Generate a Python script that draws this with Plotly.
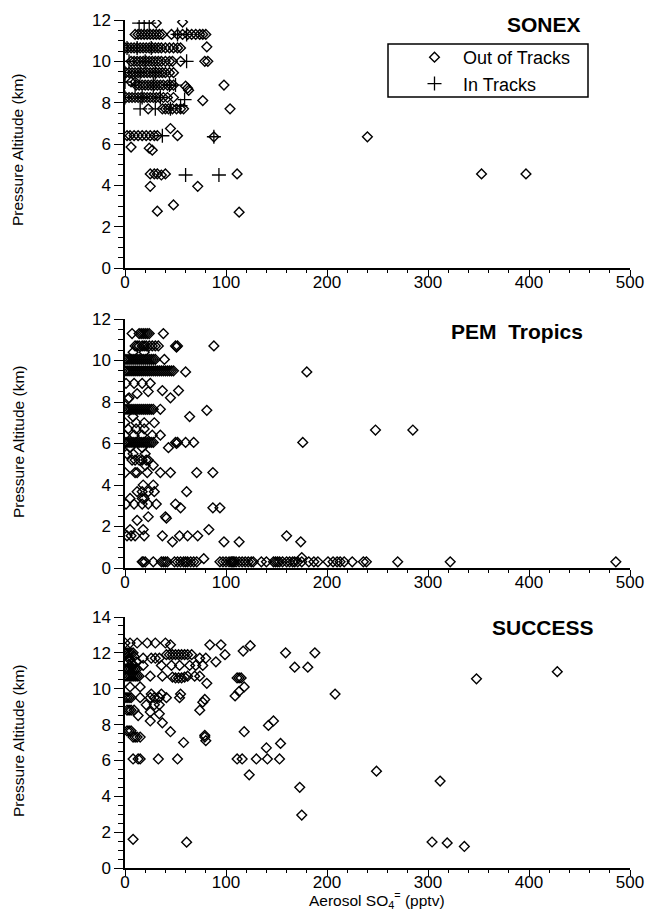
import plotly.graph_objects as go

# ---------------- DATA (x = Aerosol SO4= pptv, y = pressure altitude km) ----------------
sonex_out_x = [31, 57,
    10, 13, 16, 19, 22, 25, 28, 31, 34, 37, 46, 52, 57, 62, 66, 70, 74, 77, 80,
    0, 3, 6, 9, 12, 15, 18, 21, 24, 27, 30, 33, 36, 40, 44, 48, 52, 55, 81,
    6, 9, 12, 15, 18, 21, 24, 27, 30, 33, 36, 40, 44, 47, 55, 79, 82,
    1, 4, 7, 10, 13, 16, 19, 22, 25, 28, 31, 34, 37, 40, 44, 48,
    6, 10,
    11, 14, 17, 20, 23, 26, 29, 32, 35, 38, 42, 45, 48, 60, 98, 63, 62,
    1, 4, 7, 10, 13, 16, 19, 22, 25, 28, 31, 34, 38, 42, 48, 77,
    23, 37, 40, 43, 47, 51, 55, 58, 104,
    2, 5, 9, 13, 17, 21, 25, 29, 32, 52, 88, 45,
    6, 24, 27,
    240, 25, 29, 32, 36, 40, 111, 353, 397, 25, 72, 48, 32, 113]
sonex_out_y = [11.85, 11.9,
    11.3, 11.3, 11.3, 11.3, 11.3, 11.3, 11.3, 11.3, 11.3, 11.3, 11.3, 11.3, 11.3, 11.3, 11.3, 11.3, 11.3, 11.3, 11.3,
    10.65, 10.65, 10.65, 10.65, 10.65, 10.65, 10.65, 10.65, 10.65, 10.65, 10.65, 10.65, 10.65, 10.65, 10.65, 10.65, 10.65, 10.65, 10.7,
    10.0, 10.0, 10.0, 10.0, 10.0, 10.0, 10.0, 10.0, 10.0, 10.0, 10.0, 10.0, 10.0, 10.0, 10.0, 10.0, 10.0,
    9.45, 9.45, 9.45, 9.45, 9.45, 9.45, 9.45, 9.45, 9.45, 9.45, 9.45, 9.45, 9.45, 9.45, 9.45, 9.45,
    9.0, 9.0,
    8.85, 8.85, 8.85, 8.85, 8.85, 8.85, 8.85, 8.85, 8.85, 8.85, 8.85, 8.85, 8.85, 8.8, 8.85, 8.6, 8.7,
    8.25, 8.25, 8.25, 8.25, 8.25, 8.25, 8.25, 8.25, 8.25, 8.25, 8.25, 8.25, 8.25, 8.25, 8.25, 8.1,
    7.7, 7.7, 7.7, 7.7, 7.7, 7.7, 7.7, 7.7, 7.7,
    6.4, 6.4, 6.4, 6.4, 6.4, 6.4, 6.4, 6.4, 6.4, 6.4, 6.35, 6.75,
    5.85, 5.8, 5.7,
    6.35, 4.55, 4.55, 4.55, 4.5, 4.55, 4.55, 4.55, 4.55, 3.95, 3.95, 3.05, 2.75, 2.7]

sonex_in_x = [14, 19, 24, 52, 61, 2, 12, 26, 4, 20, 61, 0, 15, 30, 0, 10, 28, 44, 50,
              0, 17, 35, 59, 15, 30, 45, 55, 37, 88, 60, 93]
sonex_in_y = [11.85, 11.85, 11.85, 11.3, 11.3, 10.65, 10.65, 10.65, 10.0, 10.0, 10.0, 9.45, 9.45, 9.45, 9.0,
              8.85, 8.85, 8.85, 8.85, 8.25, 8.25, 8.25, 8.15, 7.7, 7.7, 7.7, 7.85, 6.4, 6.35, 4.5, 4.5]

pem_x = [7, 14, 16, 18, 20, 22, 24, 38,
    10, 12, 14, 17, 19, 21, 24, 27, 30, 33, 50, 51, 52, 88,
    8, 19,
    0, 2, 4, 6, 8, 10, 12, 14, 16, 18, 20, 22, 24, 26, 28, 30, 39,
    0, 2, 4, 6, 8, 10, 12, 14, 16, 18, 20, 22, 24, 26, 28, 30, 32, 34, 36, 38, 40, 42, 44, 46, 48, 60, 180,
    1, 9, 17, 25, 23, 37, 53, 12, 4, 45, 3,
    0, 2, 4, 6, 8, 10, 12, 14, 16, 18, 20, 22, 24, 26, 28, 35, 81,
    8, 64, 0, 11, 19, 29, 3, 11, 19, 248, 285, 0, 9, 17, 27, 35,
    0, 2, 4, 6, 8, 10, 12, 14, 16, 18, 20, 22, 24, 26, 28, 50, 51, 52, 60, 68, 176,
    5, 17, 43, 2, 8, 20, 7, 10, 14, 17, 21, 23, 20, 28,
    0, 10, 12, 22, 35, 45, 71, 87, 18, 28, 12, 17, 23, 29, 61, 5, 17, 19,
    1, 9, 17, 23, 31, 50, 55, 87, 94, 23, 40, 41, 12, 5, 18, 83,
    2, 6, 10, 19, 37, 54, 62, 72, 160, 47, 98, 113, 174, 78, 175,
    17, 18, 20, 28, 36, 38, 40, 42, 49, 52, 55, 58, 60, 62, 65, 68, 71, 94, 97, 100, 103, 105, 106,
    107, 108, 110, 113, 116, 119, 122, 125, 127, 135, 140, 147, 149, 151, 153, 156, 160, 163, 166,
    168, 171, 175, 182, 187, 191, 201, 206, 210, 213, 217, 225, 236, 239, 270, 322, 486, 497]
pem_y = [11.3, 11.3, 11.3, 11.3, 11.3, 11.3, 11.3, 11.3,
    10.7, 10.7, 10.7, 10.7, 10.7, 10.7, 10.7, 10.7, 10.7, 10.7, 10.7, 10.65, 10.7, 10.7,
    10.4, 10.4,
    10.05, 10.05, 10.05, 10.05, 10.05, 10.05, 10.05, 10.05, 10.05, 10.05, 10.05, 10.05, 10.05, 10.05, 10.05, 10.05, 10.05,
    9.5, 9.5, 9.5, 9.5, 9.5, 9.5, 9.5, 9.5, 9.5, 9.5, 9.5, 9.5, 9.5, 9.5, 9.5, 9.5, 9.5, 9.5, 9.5, 9.5, 9.5, 9.5, 9.5, 9.5, 9.5, 9.45, 9.45,
    8.9, 8.9, 8.9, 8.9, 8.5, 8.55, 8.55, 8.4, 8.2, 8.2, 8.15,
    7.65, 7.65, 7.65, 7.65, 7.65, 7.65, 7.65, 7.65, 7.65, 7.65, 7.65, 7.65, 7.65, 7.65, 7.65, 7.65, 7.6,
    7.3, 7.3, 7.0, 7.0, 7.0, 7.0, 6.7, 6.7, 6.7, 6.65, 6.65, 6.4, 6.4, 6.4, 6.4, 6.4,
    6.05, 6.05, 6.05, 6.05, 6.05, 6.05, 6.05, 6.05, 6.05, 6.05, 6.05, 6.05, 6.05, 6.05, 6.05, 6.05, 6.0, 6.05, 6.05, 6.05, 6.05,
    5.8, 5.8, 5.8, 5.5, 5.5, 5.5, 5.2, 5.2, 5.2, 5.2, 5.2, 5.2, 4.95, 4.95,
    4.6, 4.6, 4.6, 4.6, 4.6, 4.6, 4.6, 4.6, 4.0, 4.0, 3.68, 3.68, 3.68, 3.68, 3.68, 3.35, 3.35, 3.35,
    3.08, 3.08, 3.08, 3.08, 3.08, 3.08, 2.9, 2.9, 2.9, 2.47, 2.47, 2.4, 2.3, 1.85, 1.85, 1.85,
    1.55, 1.55, 1.55, 1.55, 1.55, 1.55, 1.55, 1.55, 1.55, 1.26, 1.26, 1.26, 1.26, 0.45, 0.5,
    0.3, 0.3, 0.3, 0.3, 0.3, 0.3, 0.3, 0.3, 0.3, 0.3, 0.3, 0.3, 0.3, 0.3, 0.3, 0.3, 0.3, 0.3, 0.3, 0.3, 0.3, 0.3, 0.3,
    0.3, 0.3, 0.3, 0.3, 0.3, 0.3, 0.3, 0.3, 0.3, 0.3, 0.3, 0.3, 0.3, 0.3, 0.3, 0.3, 0.3, 0.3,
    0.3, 0.3, 0.3, 0.3, 0.3, 0.3, 0.3, 0.3, 0.3, 0.3, 0.3, 0.3, 0.3, 0.3, 0.3, 0.3, 0.3, 0.3]

success_x = [0, 5, 12, 22, 30, 40, 45, 84, 95, 117, 124,
    0, 2, 4, 6, 8, 159, 188,
    41, 44, 47, 50, 53, 56, 59, 62, 66, 99,
    18, 26, 30, 34, 74, 80, 90,
    8, 18, 36, 46, 54, 64, 70, 77, 168, 181,
    0, 2, 4, 6, 8, 10, 12, 1, 3, 5, 7, 9, 11,
    0, 2, 4, 6, 8, 10, 12, 14, 25, 37, 47, 50, 53, 56, 59, 62, 69, 74, 111, 113, 115,
    81, 5, 15, 118, 113, 109, 26, 36, 55, 208,
    0, 2, 4, 6, 15, 25, 29, 34, 41, 54, 79,
    21, 29, 34, 77, 2, 4, 6, 9, 25, 34, 74, 13, 25, 142, 147, 37,
    2, 4, 6, 45, 118, 79, 8, 10, 12, 15, 79, 58, 154, 80, 140,
    8, 13, 15, 33, 52, 111, 116, 130, 141, 153,
    123, 249, 173, 175, 8, 61, 312, 348, 428, 304, 319, 336]
success_y = [12.55, 12.55, 12.55, 12.55, 12.55, 12.55, 12.45, 12.45, 12.45, 12.1, 12.4,
    12.0, 12.0, 12.0, 12.0, 12.0, 12.0, 12.0,
    11.9, 11.9, 11.9, 11.9, 11.9, 11.9, 11.9, 11.9, 11.9, 11.9,
    11.7, 11.7, 11.7, 11.7, 11.7, 11.7, 11.5,
    11.3, 11.3, 11.3, 11.3, 11.3, 11.3, 11.3, 11.3, 11.2, 11.2,
    11.1, 11.1, 11.1, 11.1, 11.1, 11.1, 11.1, 11.5, 11.8, 11.6, 11.4, 11.8, 11.5,
    10.7, 10.7, 10.7, 10.7, 10.7, 10.7, 10.7, 10.7, 10.7, 10.7, 10.65, 10.6, 10.6, 10.6, 10.65, 10.7, 10.7, 10.7, 10.6, 10.6, 10.6,
    10.3, 10.1, 10.1, 10.1, 9.85, 9.6, 9.7, 9.7, 9.7, 9.7,
    9.5, 9.5, 9.5, 9.5, 9.5, 9.5, 9.5, 9.5, 9.5, 9.5, 9.4,
    9.1, 9.1, 9.1, 9.25, 8.8, 8.8, 8.8, 8.8, 8.7, 8.6, 8.8, 8.5, 8.2, 7.95, 8.2, 8.1,
    7.65, 7.65, 7.65, 7.6, 7.6, 7.4, 7.3, 7.3, 7.3, 7.3, 7.3, 7.0, 6.95, 7.1, 6.7,
    6.08, 6.08, 6.08, 6.08, 6.08, 6.08, 6.08, 6.08, 6.08, 6.08,
    5.2, 5.4, 4.5, 2.95, 1.6, 1.44, 4.85, 10.55, 10.95, 1.45, 1.4, 1.2]

x_ticks = [0, 100, 200, 300, 400, 500]
panel_names = ["SONEX", "PEM  Tropics", "SUCCESS"]
y_max = [12, 12, 14]

# ---------------- FIGURE ----------------
W, H = 647, 913
FONT = "Liberation Sans, Arial, Helvetica, sans-serif"

def py(p):  # pixel row -> paper y
    return 1 - p / H

x_dom = [125 / W, 630 / W]
y_doms = [[py(268), py(20)], [py(568), py(319)], [py(868), py(617)]]

fig = go.Figure()

dia = dict(symbol="diamond-open", size=7.5, color="black", line=dict(width=1.4, color="black"))
plus = dict(symbol="cross-thin-open", size=10, color="black", line=dict(width=1.3, color="black"))

fig.add_trace(go.Scatter(x=sonex_out_x, y=sonex_out_y, mode="markers", marker=dia,
                         name="Out of Tracks", xaxis="x", yaxis="y"))
fig.add_trace(go.Scatter(x=sonex_in_x, y=sonex_in_y, mode="markers", marker=plus,
                         name="In Tracks", xaxis="x", yaxis="y"))
fig.add_trace(go.Scatter(x=pem_x, y=pem_y, mode="markers", marker=dia, showlegend=False,
                         xaxis="x2", yaxis="y2"))
fig.add_trace(go.Scatter(x=success_x, y=success_y, mode="markers", marker=dia, showlegend=False,
                         xaxis="x3", yaxis="y3"))

tickfont = dict(family=FONT, size=17, color="black")
layout = dict(width=W, height=H, margin=dict(l=0, r=0, t=0, b=0, autoexpand=False),
              paper_bgcolor="white", plot_bgcolor="white", font=dict(family=FONT, color="black"))

for i in range(3):
    xs = "" if i == 0 else str(i + 1)
    ys = "" if i == 0 else str(i + 1)
    layout["xaxis" + xs] = dict(domain=x_dom, anchor="y" + ys, range=[0, 500], tickvals=x_ticks,
                                ticks="outside", ticklen=6, tickwidth=1.2, tickcolor="black",
                                showline=True, linecolor="black", linewidth=1.5, showgrid=False,
                                zeroline=False, tickfont=tickfont, automargin=False,
                                ticklabelstandoff=-8,
                                minor=dict(dtick=20, ticks="outside", ticklen=3, tickcolor="black",
                                           tickwidth=1, showgrid=False))
    layout["yaxis" + ys] = dict(domain=y_doms[i], anchor="x" + xs, range=[0, y_max[i]], dtick=2,
                                ticks="outside", ticklen=9, tickwidth=1.2, tickcolor="black",
                                showline=True, linecolor="black", linewidth=1.5, showgrid=False,
                                zeroline=False, tickfont=tickfont, automargin=False,
                                minor=dict(dtick=0.5, ticks="outside", ticklen=5, tickcolor="black",
                                           tickwidth=1, showgrid=False))
    # right-hand axis
    layout["yaxis" + str(i + 4)] = dict(overlaying="y" + ys, side="right", anchor="x" + xs,
                                        range=[0, y_max[i]], dtick=1, showticklabels=False,
                                        ticks="outside", ticklen=9, tickwidth=1.2, tickcolor="black",
                                        showline=True, linecolor="black", linewidth=1.5,
                                        showgrid=False, zeroline=False, automargin=False,
                                        minor=dict(dtick=0.5, ticks="outside", ticklen=5,
                                                   tickcolor="black", tickwidth=1, showgrid=False))

fig.update_layout(**layout)

# legend (box drawn as a paper-space frame around the plotly legend)
fig.update_layout(legend=dict(x=406 / W, y=py(70.5), xanchor="left", yanchor="middle",
                              borderwidth=0, bgcolor="rgba(0,0,0,0)",
                              font=dict(family=FONT, size=18, color="black"),
                              itemwidth=47, tracegroupgap=0))
fig.add_shape(type="rect", xref="paper", yref="paper", x0=388 / W, x1=588 / W,
              y0=py(97), y1=py(44), line=dict(color="black", width=1.5), layer="below")

ann = []
title_pos = [(583, 25), (585, 331), (596, 627)]
for name, (xp, yp) in zip(panel_names, title_pos):
    ann.append(dict(text="<b>" + name + "</b>", x=xp / W, y=py(yp), xref="paper", yref="paper",
                    xanchor="right", yanchor="middle", showarrow=False,
                    font=dict(family=FONT, size=21, color="black")))
for yc in [150, 442, 741]:
    ann.append(dict(text="Pressure Altitude (km)", x=18 / W, y=py(yc), xref="paper", yref="paper",
                    textangle=-90, xanchor="center", yanchor="middle", showarrow=False,
                    font=dict(family=FONT, size=15.5, color="black")))
ann.append(dict(text="Aerosol SO<sub>4</sub><sup>=</sup> (pptv)", x=377 / W, y=0, xref="paper",
                yref="paper", xanchor="center", yanchor="bottom", showarrow=False,
                font=dict(family=FONT, size=15.5, color="black")))
fig.update_layout(annotations=ann)

fig.write_html("out.html")
